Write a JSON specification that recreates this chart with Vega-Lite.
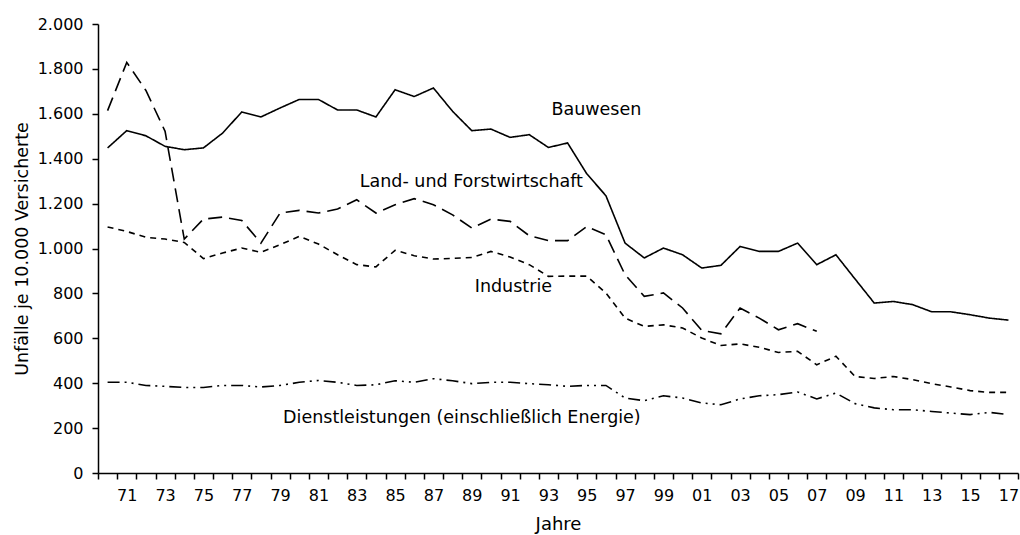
{
  "$schema": "https://vega.github.io/schema/vega-lite/v6.json",
  "width": 920,
  "height": 449,
  "autosize": "none",
  "padding": {"left": 98, "top": 24, "right": 2, "bottom": 62},
  "background": "white",
  "config": {
    "view": {"stroke": null},
    "font": "DejaVu Sans",
    "axis": {
      "domainColor": "black",
      "tickColor": "black",
      "labelColor": "black",
      "titleColor": "black",
      "labelFont": "DejaVu Sans",
      "titleFont": "DejaVu Sans",
      "titleFontWeight": "normal",
      "domainWidth": 1.5,
      "tickWidth": 1.5,
      "grid": false
    }
  },
  "datasets": {
    "series": [
      {"year": 1970, "Bauwesen": 1448, "Land": 1614, "Industrie": 1096, "Dienst": 404},
      {"year": 1971, "Bauwesen": 1525, "Land": 1829, "Industrie": 1076, "Dienst": 404},
      {"year": 1972, "Bauwesen": 1502, "Land": 1704, "Industrie": 1050, "Dienst": 390},
      {"year": 1973, "Bauwesen": 1455, "Land": 1522, "Industrie": 1042, "Dienst": 386},
      {"year": 1974, "Bauwesen": 1440, "Land": 1042, "Industrie": 1027, "Dienst": 381},
      {"year": 1975, "Bauwesen": 1448, "Land": 1131, "Industrie": 955, "Dienst": 381},
      {"year": 1976, "Bauwesen": 1514, "Land": 1140, "Industrie": 980, "Dienst": 390},
      {"year": 1977, "Bauwesen": 1608, "Land": 1125, "Industrie": 1002, "Dienst": 390},
      {"year": 1978, "Bauwesen": 1586, "Land": 1024, "Industrie": 983, "Dienst": 383},
      {"year": 1979, "Bauwesen": 1626, "Land": 1158, "Industrie": 1017, "Dienst": 390},
      {"year": 1980, "Bauwesen": 1664, "Land": 1170, "Industrie": 1054, "Dienst": 404},
      {"year": 1981, "Bauwesen": 1664, "Land": 1158, "Industrie": 1020, "Dienst": 412},
      {"year": 1982, "Bauwesen": 1617, "Land": 1176, "Industrie": 972, "Dienst": 404},
      {"year": 1983, "Bauwesen": 1617, "Land": 1217, "Industrie": 928, "Dienst": 390},
      {"year": 1984, "Bauwesen": 1586, "Land": 1158, "Industrie": 918, "Dienst": 393},
      {"year": 1985, "Bauwesen": 1707, "Land": 1195, "Industrie": 992, "Dienst": 411},
      {"year": 1986, "Bauwesen": 1677, "Land": 1222, "Industrie": 968, "Dienst": 404},
      {"year": 1987, "Bauwesen": 1715, "Land": 1195, "Industrie": 953, "Dienst": 420},
      {"year": 1988, "Bauwesen": 1611, "Land": 1150, "Industrie": 956, "Dienst": 411},
      {"year": 1989, "Bauwesen": 1525, "Land": 1091, "Industrie": 960, "Dienst": 398},
      {"year": 1990, "Bauwesen": 1532, "Land": 1131, "Industrie": 987, "Dienst": 404},
      {"year": 1991, "Bauwesen": 1495, "Land": 1121, "Industrie": 962, "Dienst": 404},
      {"year": 1992, "Bauwesen": 1507, "Land": 1057, "Industrie": 928, "Dienst": 398},
      {"year": 1993, "Bauwesen": 1450, "Land": 1035, "Industrie": 876, "Dienst": 393},
      {"year": 1994, "Bauwesen": 1470, "Land": 1035, "Industrie": 877, "Dienst": 386},
      {"year": 1995, "Bauwesen": 1333, "Land": 1098, "Industrie": 877, "Dienst": 390},
      {"year": 1996, "Bauwesen": 1235, "Land": 1061, "Industrie": 802, "Dienst": 390},
      {"year": 1997, "Bauwesen": 1024, "Land": 883, "Industrie": 690, "Dienst": 334},
      {"year": 1998, "Bauwesen": 958, "Land": 787, "Industrie": 653, "Dienst": 322},
      {"year": 1999, "Bauwesen": 1002, "Land": 802, "Industrie": 660, "Dienst": 344},
      {"year": 2000, "Bauwesen": 972, "Land": 735, "Industrie": 646, "Dienst": 334},
      {"year": 2001, "Bauwesen": 913, "Land": 635, "Industrie": 601, "Dienst": 312},
      {"year": 2002, "Bauwesen": 925, "Land": 620, "Industrie": 568, "Dienst": 304},
      {"year": 2003, "Bauwesen": 1009, "Land": 735, "Industrie": 575, "Dienst": 330},
      {"year": 2004, "Bauwesen": 987, "Land": 690, "Industrie": 560, "Dienst": 344},
      {"year": 2005, "Bauwesen": 987, "Land": 638, "Industrie": 537, "Dienst": 349},
      {"year": 2006, "Bauwesen": 1024, "Land": 665, "Industrie": 542, "Dienst": 361},
      {"year": 2007, "Bauwesen": 928, "Land": 631, "Industrie": 482, "Dienst": 330},
      {"year": 2008, "Bauwesen": 972, "Land": null, "Industrie": 520, "Dienst": 356},
      {"year": 2009, "Bauwesen": 864, "Land": null, "Industrie": 430, "Dienst": 309},
      {"year": 2010, "Bauwesen": 757, "Land": null, "Industrie": 421, "Dienst": 290},
      {"year": 2011, "Bauwesen": 764, "Land": null, "Industrie": 430, "Dienst": 282},
      {"year": 2012, "Bauwesen": 750, "Land": null, "Industrie": 416, "Dienst": 282},
      {"year": 2013, "Bauwesen": 718, "Land": null, "Industrie": 398, "Dienst": 274},
      {"year": 2014, "Bauwesen": 718, "Land": null, "Industrie": 383, "Dienst": 267},
      {"year": 2015, "Bauwesen": 705, "Land": null, "Industrie": 367, "Dienst": 260},
      {"year": 2016, "Bauwesen": 690, "Land": null, "Industrie": 359, "Dienst": 270},
      {"year": 2017, "Bauwesen": 681, "Land": null, "Industrie": 359, "Dienst": 260}
    ],
    "labels": [
      {"label": "Bauwesen", "year": 1993, "value": 1618},
      {"label": "Land- und Forstwirtschaft", "year": 1983, "value": 1294},
      {"label": "Industrie", "year": 1989, "value": 828},
      {"label": "Dienstleistungen (einschließlich Energie)", "year": 1979, "value": 245}
    ]
  },
  "layer": [
    {
      "data": {"name": "series"},
      "transform": [
        {"fold": ["Bauwesen", "Land", "Industrie", "Dienst"], "as": ["sector", "value"]},
        {"filter": "isValid(datum.value)"}
      ],
      "mark": {"type": "line", "color": "black", "strokeWidth": 1.6},
      "encoding": {
        "x": {
          "field": "year",
          "type": "ordinal",
          "bandPosition": 0.5,
          "scale": {"type": "band", "paddingInner": 0, "paddingOuter": 0},
          "axis": {
            "title": "Jahre",
            "titleFontSize": 18,
            "titlePadding": 12,
            "labelFontSize": 16,
            "labelPadding": 8,
            "labelAngle": 0,
            "tickSize": 6,
            "tickBand": "extent",
            "labelOverlap": false,
            "labelBound": false,
            "labelExpr": "datum.value % 2 == 1 ? slice(toString(datum.value), 2) : ''"
          }
        },
        "y": {
          "field": "value",
          "type": "quantitative",
          "scale": {"domain": [0, 2000], "nice": false, "zero": true},
          "axis": {
            "title": "Unfälle je 10.000 Versicherte",
            "titleFontSize": 17.5,
            "titlePadding": 6,
            "labelFontSize": 16,
            "labelPadding": 9,
            "tickSize": 6,
            "values": [0, 200, 400, 600, 800, 1000, 1200, 1400, 1600, 1800, 2000],
            "labelExpr": "replace(format(datum.value, ','), ',', '.')"
          }
        },
        "strokeDash": {
          "field": "sector",
          "type": "nominal",
          "scale": {
            "domain": ["Bauwesen", "Land", "Industrie", "Dienst"],
            "range": [[1, 0], [14, 7], [6, 5], [12, 5, 2, 5, 2, 5]]
          },
          "legend": null
        },
        "detail": {"field": "sector"}
      }
    },
    {
      "data": {"name": "labels"},
      "mark": {"type": "text", "align": "left", "baseline": "middle", "dx": 3, "fontSize": 17.5, "font": "DejaVu Sans", "color": "black"},
      "encoding": {
        "x": {"field": "year", "type": "ordinal", "bandPosition": 0.5},
        "y": {"field": "value", "type": "quantitative"},
        "text": {"field": "label"}
      }
    }
  ]
}
